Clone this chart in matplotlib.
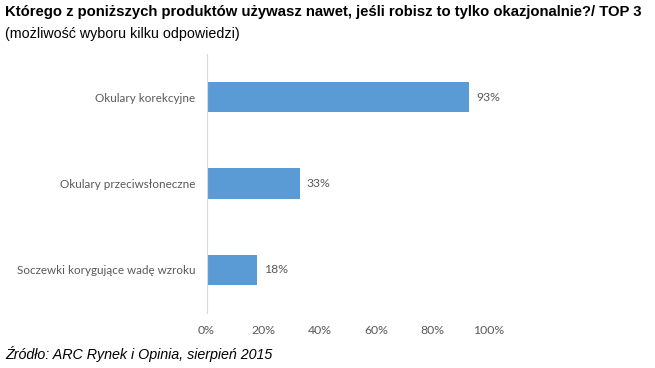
import matplotlib.pyplot as plt
import numpy as np

categories = ["Okulary korekcyjne", "Okulary przeciwsłoneczne", "Soczewki korygujące wadę wzroku"]
values = [93, 33, 18]
xticks = [0, 20, 40, 60, 80, 100]

bar_color = "#5B9BD5"
gray = "#595959"

fig = plt.figure(figsize=(6.55, 3.68), dpi=100)
ax = fig.add_axes([206.5 / 655, 1 - 313 / 368, 282.5 / 655, 259 / 368])

y = np.arange(len(categories))
ax.barh(y, values, height=0.35, color=bar_color)
for yi, v in zip(y, values):
    ax.text(v + 2.5, yi, f"{v}%", va="center", ha="left", fontsize=8.8, color=gray, family="Lato")

ax.set_ylim(len(categories) - 0.5, -0.5)
ax.set_xlim(0, 100)
ax.set_yticks(y)
ax.set_yticklabels(categories, fontsize=8.4, color=gray, family="Lato")
ax.set_xticks(xticks)
ax.set_xticklabels([f"{t}%" for t in xticks], fontsize=8.8, color=gray, family="Lato")
ax.tick_params(length=0)
ax.tick_params(axis="y", pad=8)
ax.tick_params(axis="x", pad=9)
for s in ["top", "right", "bottom"]:
    ax.spines[s].set_visible(False)
ax.spines["left"].set_color("#D9D9D9")

fig.text(5 / 655, 1 - 12 / 368, "Którego z poniższych produktów używasz nawet, jeśli robisz to tylko okazjonalnie?/ TOP 3",
         fontsize=10.75, fontweight="bold", family="Liberation Sans", va="center", ha="left")
fig.text(5 / 655, 1 - 34 / 368, "(możliwość wyboru kilku odpowiedzi)",
         fontsize=10.25, family="Liberation Sans", va="center", ha="left")
fig.text(5 / 655, 1 - 354 / 368, "Źródło: ARC Rynek i Opinia, sierpień 2015",
         fontsize=10.25, style="italic", family="Liberation Sans", va="center", ha="left")

fig.savefig("out.png", dpi=100)
